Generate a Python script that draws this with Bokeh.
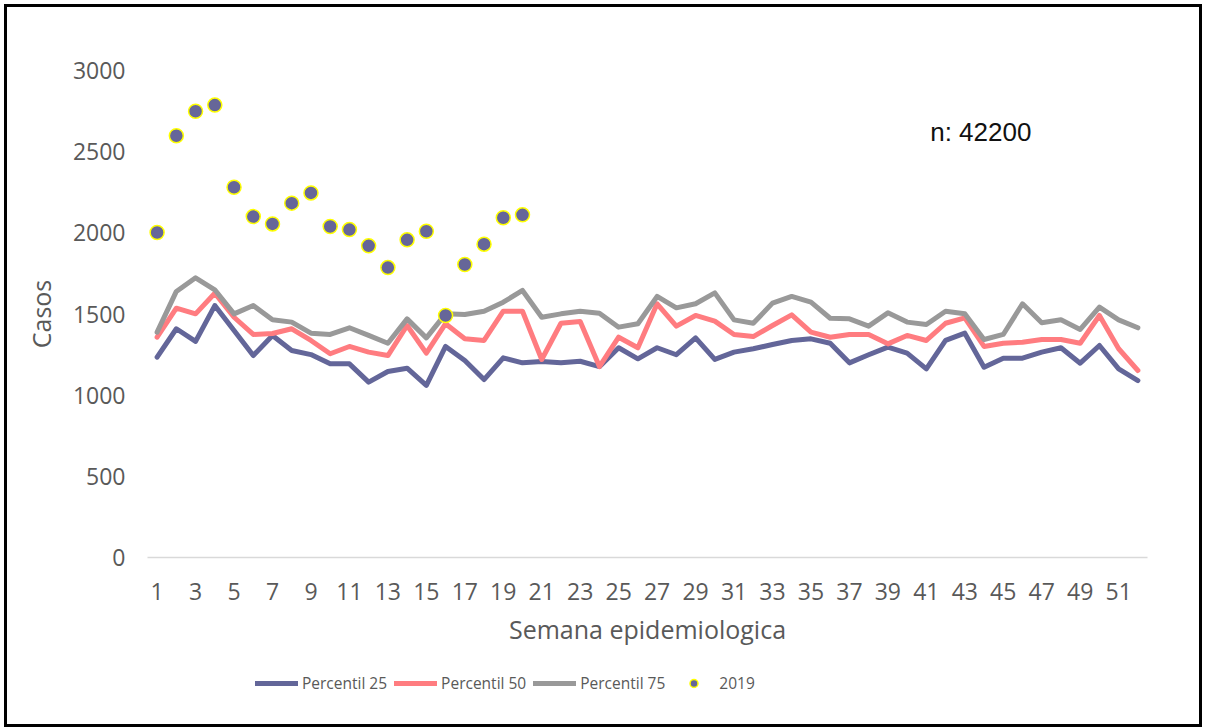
from bokeh.plotting import figure
from bokeh.layouts import column
from bokeh.models import Range1d, FixedTicker, Legend, LegendItem, Label, ColumnDataSource
from bokeh.embed import file_html
from bokeh.resources import INLINE

weeks = list(range(1, 53))
p25 = [1234, 1409, 1331, 1552, 1398, 1244, 1368, 1275, 1250, 1193, 1193, 1080, 1146, 1166, 1060, 1300,
       1214, 1096, 1230, 1199, 1207, 1199, 1209, 1176, 1292, 1224, 1292, 1249, 1353, 1220, 1265, 1286,
       1312, 1337, 1347, 1320, 1199, 1249, 1296, 1259, 1162, 1337, 1382, 1172, 1228, 1228, 1265, 1292,
       1197, 1306, 1162, 1090]
p50 = [1357, 1536, 1501, 1628, 1480, 1374, 1380, 1409, 1337, 1255, 1300, 1265, 1244, 1429, 1259, 1440,
       1347, 1337, 1517, 1517, 1220, 1443, 1454, 1176, 1357, 1292, 1563, 1425, 1491, 1456, 1374, 1361,
       1429, 1495, 1388, 1357, 1374, 1374, 1316, 1368, 1337, 1443, 1476, 1300, 1320, 1326, 1343, 1343,
       1320, 1491, 1286, 1152]
p75 = [1388, 1639, 1723, 1649, 1501, 1552, 1464, 1450, 1382, 1374, 1415, 1368, 1320, 1470, 1353, 1501,
       1497, 1517, 1573, 1645, 1480, 1501, 1517, 1505, 1419, 1440, 1608, 1538, 1563, 1630, 1464, 1443,
       1567, 1608, 1573, 1474, 1470, 1425, 1507, 1450, 1435, 1517, 1501, 1343, 1374, 1563, 1446, 1464,
       1405, 1542, 1464, 1415]
weeks_2019 = list(range(1, 21))
cases_2019 = [2002, 2598, 2749, 2787, 2281, 2100, 2055, 2183, 2246, 2039, 2020, 1920, 1786, 1957, 2010,
              1491, 1805, 1930, 2093, 2111]
x_ticks = list(range(1, 52, 2))
y_ticks = [0, 500, 1000, 1500, 2000, 2500, 3000]
series_names = ["Percentil 25", "Percentil 50", "Percentil 75", "2019"]
n_text = "n: 42200"

FONT = "Open Sans"
C25, C50, C75, CDOT = "#636699", "#FF7C80", "#999999", "#666699"

src = ColumnDataSource(dict(w=weeks, p25=p25, p50=p50, p75=p75))
src19 = ColumnDataSource(dict(w=weeks_2019, c=cases_2019))


def draw(fig):
    a = fig.line("w", "p25", source=src, line_color=C25, line_width=5, line_join="round", line_cap="round")
    b = fig.line("w", "p50", source=src, line_color=C50, line_width=5, line_join="round", line_cap="round")
    c = fig.line("w", "p75", source=src, line_color=C75, line_width=5, line_join="round", line_cap="round")
    d = fig.scatter("w", "c", source=src19, size=14, fill_color=CDOT, line_color="#FFFF00", line_width=1.5)
    return [a, b, c, d]


# ---- main chart ----
p = figure(frame_width=1000, frame_height=487, output_backend="svg", toolbar_location=None,
           x_range=Range1d(0.5, 52.5), y_range=Range1d(0, 3000),
           min_border_left=140, min_border_right=52, min_border_top=63, min_border_bottom=100)
p.outline_line_color = None
p.xgrid.grid_line_color = None
p.ygrid.grid_line_color = None

p.xaxis.ticker = FixedTicker(ticks=x_ticks)
p.yaxis.ticker = FixedTicker(ticks=y_ticks)
for ax in (p.xaxis[0], p.yaxis[0]):
    ax.major_tick_in = 0
    ax.major_tick_out = 0
    ax.minor_tick_in = 0
    ax.minor_tick_out = 0
    ax.major_label_text_font = FONT
    ax.major_label_text_font_size = "23px"
    ax.major_label_text_color = "#595959"
    ax.axis_label_text_font = FONT
    ax.axis_label_text_font_size = "25px"
    ax.axis_label_text_font_style = "normal"
    ax.axis_label_text_color = "#595959"
p.yaxis.axis_line_color = None
p.xaxis.axis_line_color = "#D9D9D9"
p.xaxis.axis_line_width = 1.5
p.yaxis.major_label_standoff = 22
p.xaxis.major_label_standoff = 25
p.xaxis.axis_label = "Semana epidemiologica"
p.yaxis.axis_label = "Casos"
p.xaxis.axis_label_standoff = 9
p.yaxis.axis_label_standoff = 12

draw(p)

p.add_layout(Label(x=41.2, y=2624, text=n_text, text_font="Liberation Sans", text_font_size="26px",
                   text_color="#111111", text_baseline="middle", text_align="left"))

# ---- legend strip (same series, plotted out of view; only the legend shows) ----
lf = figure(width=1192, height=67, output_backend="svg", toolbar_location=None,
            x_range=Range1d(-200, -100), y_range=Range1d(-200, -100),
            min_border=0)
lf.axis.visible = False
lf.grid.visible = False
lf.outline_line_color = None
rs = draw(lf)

legend = Legend(items=[LegendItem(label=n, renderers=[r]) for n, r in zip(series_names, rs)],
                orientation="horizontal", location=(108, 30))
legend.padding = 0
legend.margin = 0
legend.spacing = 7
legend.glyph_width = 43
legend.glyph_height = 20
legend.label_height = 20
legend.label_standoff = 4
legend.border_line_color = None
legend.background_fill_alpha = 0
legend.label_text_font = FONT
legend.label_text_font_size = "15.5px"
legend.label_text_color = "#595959"
lf.add_layout(legend, "center")

layout = column(p, lf, spacing=0)
layout.styles = {"border": "3px solid black", "margin-left": "4px", "margin-top": "4px",
                 "background-color": "white"}

open("out.html", "w").write(file_html(layout, INLINE))
